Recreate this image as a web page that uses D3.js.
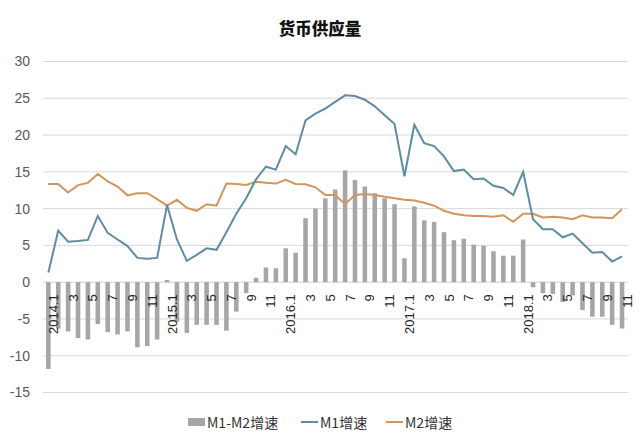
<!DOCTYPE html>
<html><head><meta charset="utf-8">
<script src="https://cdn.jsdelivr.net/npm/d3@7"></script>
<style>
body{margin:0;background:#fff;}
svg{display:block;font-family:"Noto Sans CJK SC","Noto Sans",sans-serif;}
</style></head>
<body><svg id="c" width="640" height="443"></svg>
<script>
const months = [
 "2014.1","2014.2","2014.3","2014.4","2014.5","2014.6","2014.7","2014.8","2014.9","2014.10","2014.11","2014.12",
 "2015.1","2015.2","2015.3","2015.4","2015.5","2015.6","2015.7","2015.8","2015.9","2015.10","2015.11","2015.12",
 "2016.1","2016.2","2016.3","2016.4","2016.5","2016.6","2016.7","2016.8","2016.9","2016.10","2016.11","2016.12",
 "2017.1","2017.2","2017.3","2017.4","2017.5","2017.6","2017.7","2017.8","2017.9","2017.10","2017.11","2017.12",
 "2018.1","2018.2","2018.3","2018.4","2018.5","2018.6","2018.7","2018.8","2018.9","2018.10","2018.11"];
const tickLabels = ["2014.1","3","5","7","9","11","2015.1","3","5","7","9","11","2016.1","3","5","7","9","11","2017.1","3","5","7","9","11","2018.1","3","5","7","9","11"];
const yTicks = [-15,-10,-5,0,5,10,15,20,25,30];
const m1 = [1.3,7.0,5.5,5.6,5.75,9.0,6.7,5.8,4.9,3.3,3.2,3.3,
 10.5,5.8,2.9,3.7,4.6,4.4,6.8,9.3,11.4,14.0,15.7,15.3,
 18.5,17.4,22.0,22.9,23.6,24.5,25.4,25.3,24.8,23.9,22.7,21.5,
 14.4,21.4,18.9,18.5,17.1,15.1,15.3,14.0,14.1,13.1,12.8,11.85,
 15.0,8.55,7.2,7.2,6.1,6.6,5.3,4.0,4.1,2.8,3.5];
const m2 = [13.35,13.35,12.2,13.2,13.5,14.7,13.7,13.0,11.8,12.1,12.1,11.3,
 10.4,11.2,10.1,9.7,10.6,10.4,13.4,13.35,13.2,13.65,13.5,13.4,
 13.9,13.35,13.3,12.9,11.85,11.85,10.6,11.85,12.0,11.85,11.6,11.4,
 11.2,11.1,10.8,10.4,9.7,9.3,9.1,9.0,9.0,8.9,9.1,8.2,
 9.3,9.3,8.8,8.9,8.8,8.55,9.1,8.8,8.8,8.7,9.9];
const diff = [-11.8,-6.3,-6.7,-7.6,-7.8,-5.7,-6.8,-7.1,-6.7,-8.85,-8.7,-7.8,
 0.3,-5.4,-6.9,-5.8,-5.8,-5.8,-6.6,-4.0,-1.5,0.6,2.0,1.9,
 4.6,4.0,8.7,10.0,11.4,12.6,15.2,13.9,13.0,12.1,11.4,10.6,
 3.25,10.3,8.4,8.2,6.8,5.7,5.9,5.1,4.95,4.2,3.6,3.6,
 5.8,-0.7,-1.5,-1.6,-2.7,-1.8,-3.8,-4.7,-4.7,-5.8,-6.3];

const svg = d3.select("#c");
const x = d3.scaleBand().domain(months).range([43.4, 627]).paddingInner(0).paddingOuter(0);
const y = d3.scaleLinear().domain([-15,30]).range([392.5, 61.5]);
const cx = d => x(d) + x.bandwidth()/2;

// title
svg.append("text").attr("x",320).attr("y",35).attr("text-anchor","middle")
  .attr("font-size",16.5).attr("font-weight",900).attr("fill","#111").text("货币供应量");

// grid
svg.append("g").selectAll("line").data(yTicks).join("line")
  .attr("x1",43).attr("x2",628).attr("y1",d=>y(d)).attr("y2",d=>y(d))
  .attr("stroke",d=>d===0?"#cfcfcf":"#d9d9d9").attr("stroke-width",1);

// y labels
svg.append("g").selectAll("text").data(yTicks).join("text")
  .attr("x",30).attr("y",d=>y(d)).attr("dy","0.35em").attr("text-anchor","end")
  .attr("font-size",14).attr("fill","#595959").attr("font-family","Liberation Sans, Arial, sans-serif")
  .text(d=>d);

// bars
const bw = x.bandwidth()*0.46;
svg.append("g").selectAll("rect").data(diff).join("rect")
  .attr("x",(d,i)=>cx(months[i])-bw/2).attr("width",bw)
  .attr("y",d=>y(Math.max(0,d))).attr("height",d=>Math.abs(y(d)-y(0)))
  .attr("fill","#a6a6a6");

// lines
const line = d3.line().x((d,i)=>cx(months[i])).y(d=>y(d));
svg.append("path").datum(m2).attr("d",line).attr("fill","none")
  .attr("stroke","#d39559").attr("stroke-width",2);
svg.append("path").datum(m1).attr("d",line).attr("fill","none")
  .attr("stroke","#5f8ca5").attr("stroke-width",2);

// x labels
const labelIdx = months.map((m,i)=>i).filter(i=>i%2===0);
svg.append("g").selectAll("text").data(labelIdx).join("text")
  .attr("transform",i=>`translate(${cx(months[i])+9.5},${y(0)+12}) rotate(-90)`)
  .attr("text-anchor","end").attr("font-size",13).attr("fill","#262626")
  .attr("font-family","Liberation Sans, Arial, sans-serif")
  .text((i,k)=>tickLabels[k]);

// legend
const lg = svg.append("g").attr("font-size",14).attr("fill","#333");
lg.append("rect").attr("x",188).attr("y",418).attr("width",17).attr("height",8).attr("fill","#a6a6a6");
lg.append("text").attr("x",207).attr("y",428).text("M1-M2增速");
lg.append("line").attr("x1",301).attr("x2",318).attr("y1",422).attr("y2",422).attr("stroke","#5f8ca5").attr("stroke-width",2);
lg.append("text").attr("x",320).attr("y",428).text("M1增速");
lg.append("line").attr("x1",386).attr("x2",403).attr("y1",422).attr("y2",422).attr("stroke","#d39559").attr("stroke-width",2);
lg.append("text").attr("x",405).attr("y",428).text("M2增速");
</script></body></html>
